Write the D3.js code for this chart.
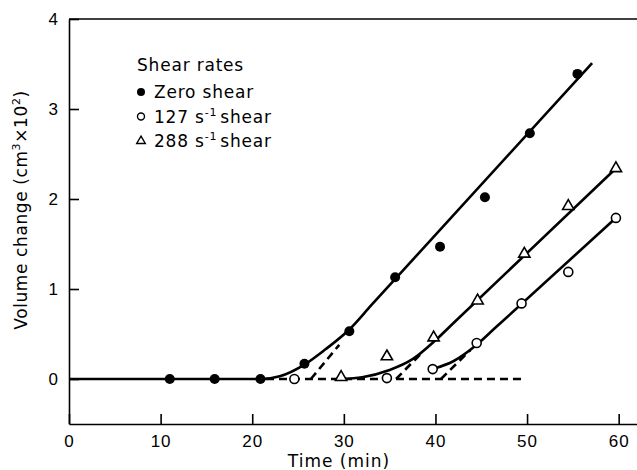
<!DOCTYPE html>
<html lang="en">
<head>
  <meta charset="UTF-8">
  <title>Volume change vs time</title>
  <script src="https://d3js.org/d3.v7.min.js"></script>
  <style>
    body { margin: 0; background: #fff; }
    svg { display: block; font-family: "DejaVu Sans", sans-serif; }
    .axis text { font-size: 17px; letter-spacing: 1px; fill: #000; }
    .axis path, .axis line { stroke: #000; stroke-width: 1.6; }
  </style>
</head>
<body>
  <div id="root"></div>
  <script>
    // tick labels
    const timeTicks = [0, 10, 20, 30, 40, 50, 60]
    const volumeTicks = [0, 1, 2, 3, 4]

    // measured points (time min, volume cm3 x 10^2)
    const zeroShear = [
      [11, 0], [15.9, 0], [20.9, 0], [25.7, 0.17], [30.6, 0.53],
      [35.6, 1.13], [40.5, 1.47], [45.4, 2.02], [50.3, 2.73], [55.5, 3.39]
    ]
    const shear127 = [
      [24.6, 0], [34.7, 0.01], [39.7, 0.11], [44.5, 0.4], [49.4, 0.84],
      [54.5, 1.19], [59.7, 1.79]
    ]
    const shear288 = [
      [29.7, 0.02], [34.7, 0.25], [39.8, 0.46], [44.6, 0.87], [49.7, 1.39],
      [54.5, 1.92], [59.7, 2.34]
    ]

    // hand drawn fitted curves (knee, then straight part)
    const zeroShearFit = [[0, 0], [21, 0], [23, 0.03], [25.7, 0.16], [28, 0.33], [30.6, 0.55], [33, 0.82], [57.1, 3.51]]
    const shear288Fit = [[29.7, 0], [32, 0.02], [35, 0.1], [37.5, 0.22], [40, 0.43], [42, 0.625], [59.7, 2.34]]
    const shear127Fit = [[39.7, 0.11], [42, 0.2], [44.5, 0.38], [46.5, 0.566], [59.7, 1.79]]

    // dashed extrapolations to zero
    const dashedLines = [
      [[21.5, 0], [49.8, 0]],
      [[26.4, 0], [29.5, 0.38]],
      [[35.7, 0], [38.6, 0.3]],
      [[40.6, 0], [43.8, 0.32]]
    ]

    const legendItems = [
      { label: 'Zero shear', sup: null, rest: null, marker: 'filled' },
      { label: '127 s', sup: '-1', rest: 'shear', marker: 'circle' },
      { label: '288 s', sup: '-1', rest: 'shear', marker: 'triangle' }
    ]

    const dimensions = {
      width: 637,
      height: 470,
      margin: { top: 19, right: 0, bottom: 46, left: 69 }
    }
    dimensions.boundedWidth = dimensions.width - dimensions.margin.left - dimensions.margin.right
    dimensions.boundedHeight = dimensions.height - dimensions.margin.top - dimensions.margin.bottom

    const wrapper = d3.select('#root')
      .append('svg')
        .attr('width', dimensions.width)
        .attr('height', dimensions.height)

    const bounds = wrapper.append('g')
      .attr('transform', `translate(${dimensions.margin.left}, ${dimensions.margin.top})`)

    const xScale = d3.scaleLinear()
      .domain([0, 62])
      .range([0, dimensions.boundedWidth])

    const yScale = d3.scaleLinear()
      .domain([-0.5, 4])
      .range([dimensions.boundedHeight, 0])

    // axes, ticks pointing inwards
    const xAxis = bounds.append('g')
      .attr('class', 'axis')
      .attr('transform', `translate(0, ${dimensions.boundedHeight})`)
      .call(d3.axisBottom(xScale).tickValues(timeTicks).tickFormat(d3.format('d'))
        .tickSizeInner(-10).tickSizeOuter(0).tickPadding(11))

    const yAxis = bounds.append('g')
      .attr('class', 'axis')
      .call(d3.axisLeft(yScale).tickValues(volumeTicks).tickFormat(d3.format('d'))
        .tickSizeInner(-10).tickSizeOuter(0).tickPadding(10))

    bounds.append('line')
      .attr('x1', 0)
      .attr('x2', dimensions.boundedWidth)
      .attr('y1', yScale(4))
      .attr('y2', yScale(4))
      .attr('stroke', '#000')
      .attr('stroke-width', 1.6)

    // axis titles
    wrapper.append('text')
      .attr('x', 339)
      .attr('y', 467)
      .attr('text-anchor', 'middle')
      .style('font-size', '17px')
      .style('letter-spacing', '1px')
      .text('Time (min)')

    const yTitle = wrapper.append('text')
      .attr('transform', 'translate(27, 210) rotate(-90)')
      .attr('text-anchor', 'middle')
      .style('font-size', '17px')
      .style('letter-spacing', '0.6px')
    yTitle.append('tspan').text('Volume change (cm')
    yTitle.append('tspan').attr('dy', -7).style('font-size', '11px').text('3')
    yTitle.append('tspan').attr('dy', 7).text('\u00d710')
    yTitle.append('tspan').attr('dy', -7).style('font-size', '11px').text('2')
    yTitle.append('tspan').attr('dy', 7).text(')')

    const lineGenerator = d3.line()
      .x(d => xScale(d[0]))
      .y(d => yScale(d[1]))

    bounds.selectAll('.dash')
      .data(dashedLines)
      .join('path')
      .attr('class', 'dash')
      .attr('d', d => lineGenerator(d))
      .attr('fill', 'none')
      .attr('stroke', '#000')
      .attr('stroke-width', 2.6)
      .attr('stroke-dasharray', '8,5')

    const fitGenerator = d3.line()
      .x(d => xScale(d[0]))
      .y(d => yScale(d[1]))
      .curve(d3.curveMonotoneX)

    bounds.selectAll('.fit')
      .data([zeroShearFit, shear288Fit, shear127Fit])
      .join('path')
      .attr('class', 'fit')
      .attr('d', d => fitGenerator(d))
      .attr('fill', 'none')
      .attr('stroke', '#000')
      .attr('stroke-width', 2.6)

    const triangle = d3.symbol(d3.symbolTriangle, 55)

    bounds.selectAll('.zero')
      .data(zeroShear)
      .join('circle')
      .attr('class', 'zero')
      .attr('cx', d => xScale(d[0]))
      .attr('cy', d => yScale(d[1]))
      .attr('r', 5)
      .attr('fill', '#000')

    bounds.selectAll('.s127')
      .data(shear127)
      .join('circle')
      .attr('class', 's127')
      .attr('cx', d => xScale(d[0]))
      .attr('cy', d => yScale(d[1]))
      .attr('r', 4.5)
      .attr('fill', '#fff')
      .attr('stroke', '#000')
      .attr('stroke-width', 1.6)

    bounds.selectAll('.s288')
      .data(shear288)
      .join('path')
      .attr('class', 's288')
      .attr('d', triangle)
      .attr('transform', d => `translate(${xScale(d[0])}, ${yScale(d[1])})`)
      .attr('fill', '#fff')
      .attr('stroke', '#000')
      .attr('stroke-width', 1.6)

    // legend
    const legend = wrapper.append('g')
    legend.append('text')
      .attr('x', 137)
      .attr('y', 71)
      .style('font-size', '17px')
      .style('letter-spacing', '0.8px')
      .text('Shear rates')

    const items = legend.selectAll('.item')
      .data(legendItems)
      .join('g')
      .attr('class', 'item')
      .attr('transform', (d, i) => `translate(141, ${98 + i * 24.5})`)

    items.each(function (d) {
      const g = d3.select(this)
      if (d.marker === 'filled') {
        g.append('circle').attr('cy', -6).attr('r', 4).attr('fill', '#000')
      } else if (d.marker === 'circle') {
        g.append('circle').attr('cy', -6).attr('r', 3.5).attr('fill', '#fff')
          .attr('stroke', '#000').attr('stroke-width', 1.4)
      } else {
        g.append('path').attr('d', d3.symbol(d3.symbolTriangle, 32))
          .attr('transform', 'translate(0, -6)')
          .attr('fill', '#fff').attr('stroke', '#000').attr('stroke-width', 1.4)
      }
      const t = g.append('text').attr('x', 13).style('font-size', '17px').style('letter-spacing', '0.8px')
      t.append('tspan').text(d.label)
      if (d.sup) {
        t.append('tspan').attr('dy', -7).style('font-size', '11px').text(d.sup)
        t.append('tspan').attr('dy', 7).attr('dx', 3).text(d.rest)
      }
    })
  </script>
</body>
</html>
